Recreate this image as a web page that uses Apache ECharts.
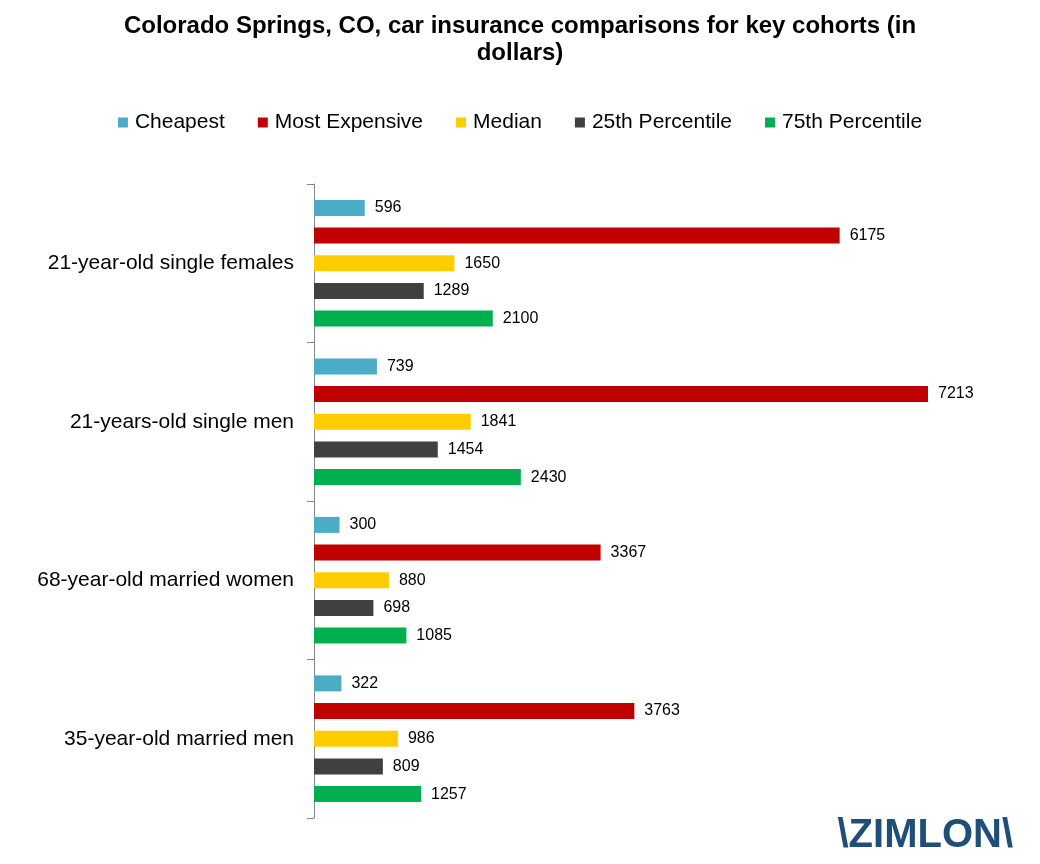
<!DOCTYPE html>
<html><head><meta charset="utf-8">
<script src="https://cdn.jsdelivr.net/npm/echarts@6/dist/echarts.min.js"></script>
<style>html,body{margin:0;padding:0;background:#fff}#c{width:1040px;height:864px}</style>
</head><body><div id="c"></div>
<script>
const categories = ['21-year-old single females','21-years-old single men','68-year-old married women','35-year-old married men'];
const seriesNames = ['Cheapest','Most Expensive','Median','25th Percentile','75th Percentile'];
const cheapest = [596, 739, 300, 322];
const mostExpensive = [6175, 7213, 3367, 3763];
const median = [1650, 1841, 880, 986];
const p25 = [1289, 1454, 698, 809];
const p75 = [2100, 2430, 1085, 1257];
const values = [cheapest, mostExpensive, median, p25, p75];
const colors = ['#4BACC6','#C00000','#FFCC00','#404040','#00B050'];
const FONT = '"Liberation Sans", Arial, sans-serif';

const chart = echarts.init(document.getElementById('c'));
chart.setOption({
  animation: false,
  title: {
    text: 'Colorado Springs, CO, car insurance comparisons for key cohorts (in\ndollars)',
    left: 'center', top: 8,
    textStyle: {fontFamily: FONT, fontSize: 24, fontWeight: 'bold', color: '#000', lineHeight: 27}
  },
  legend: {
    top: 107, left: 'center', itemWidth: 10, itemHeight: 10, itemGap: 33,
    icon: 'rect',
    textStyle: {fontFamily: FONT, fontSize: 21, color: '#000', padding: [0,0,0,2]},
    data: seriesNames
  },
  grid: {left: 314, right: 45, top: 184, bottom: 46, containLabel: false},
  xAxis: {type: 'value', min: 0, max: 8000, show: false},
  yAxis: {
    type: 'category', data: categories, inverse: true,
    axisLine: {show: true, lineStyle: {color: '#868686', width: 1}},
    axisTick: {show: true, length: 7, lineStyle: {color: '#868686'}},
    axisLabel: {fontFamily: FONT, fontSize: 21, color: '#000', margin: 20},
    splitLine: {show: false}
  },
  series: seriesNames.map((n, i) => ({
    name: n, type: 'bar', data: values[i],
    itemStyle: {color: colors[i]},
    barWidth: 16, barGap: '73%', barCategoryGap: '20%',
    label: {show: true, position: 'right', distance: 10, fontFamily: FONT, fontSize: 16, color: '#000'}
  })),
  graphic: [{
    type: 'text', right: 27, bottom: 8,
    style: {text: '\\ZIMLON\\', fontFamily: FONT, fontSize: 40, fontWeight: 'bold', fill: '#1F4E79'}
  }]
});
</script></body></html>
